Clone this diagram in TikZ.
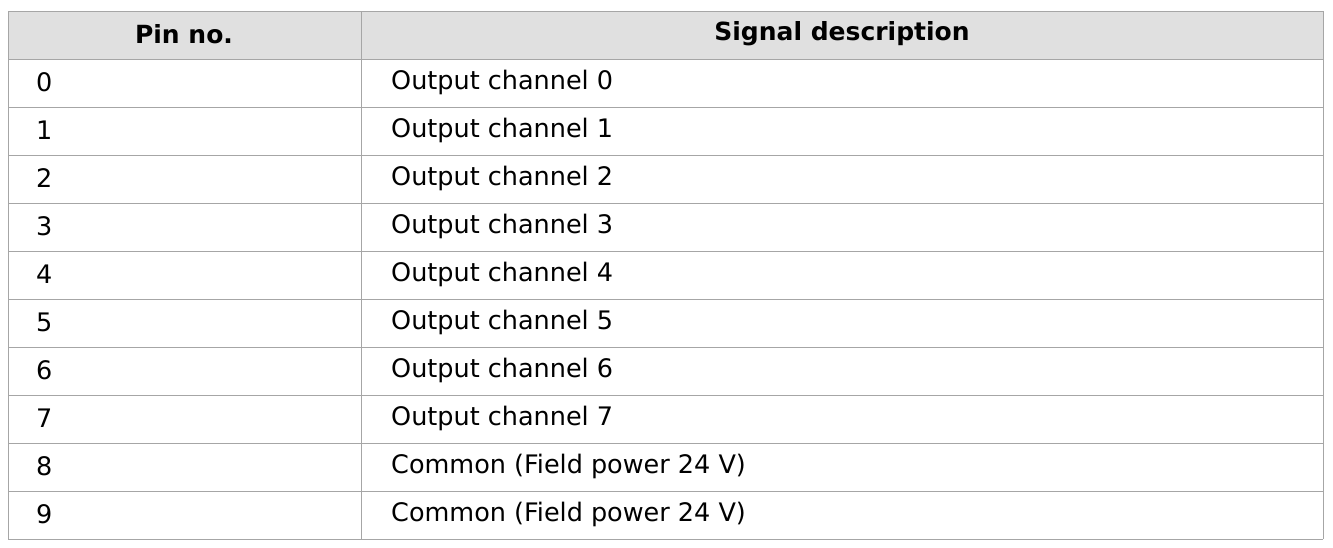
\documentclass[tikz,border=0pt]{standalone}
\usepackage{fontspec}
\setmainfont{DejaVu Sans}
\definecolor{grid}{HTML}{A6A6A6}
\definecolor{head}{HTML}{E0E0E0}
\begin{document}
\begin{tikzpicture}[x=1pt,y=-1pt,
  cell/.style={anchor=west,inner sep=0pt,font=\fontsize{25.5}{28}\selectfont},
  hcell/.style={anchor=center,inner sep=0pt,font=\fontsize{25}{28}\selectfont\bfseries}]
\useasboundingbox (0,0) rectangle (1333,547);
\fill[head] (8,11) rectangle (1323,59);
\foreach \y in {11,59,107,155,203,251,299,347,395,443,491,539}
  \draw[grid,line width=1pt] (8,\y) -- (1323,\y);
\draw[grid,line width=1pt] (8,11) -- (8,539) (361,11) -- (361,539) (1323,11) -- (1323,539);
\node[hcell] (h1) at (184,34) {Pin no.};
\node[hcell] (h2) at (842,34) {Signal description};
\foreach \i/\t in {0/Output channel 0,1/Output channel 1,2/Output channel 2,3/Output channel 3,4/Output channel 4,5/Output channel 5,6/Output channel 6,7/Output channel 7,8/Common (Field power 24 V),9/Common (Field power 24 V)}{
  \node[cell] (p\i) at (36,{82+48*\i}) {\i};
  \node[cell] (d\i) at (391,{82+48*\i}) {\t};
}
\end{tikzpicture}
\end{document}
